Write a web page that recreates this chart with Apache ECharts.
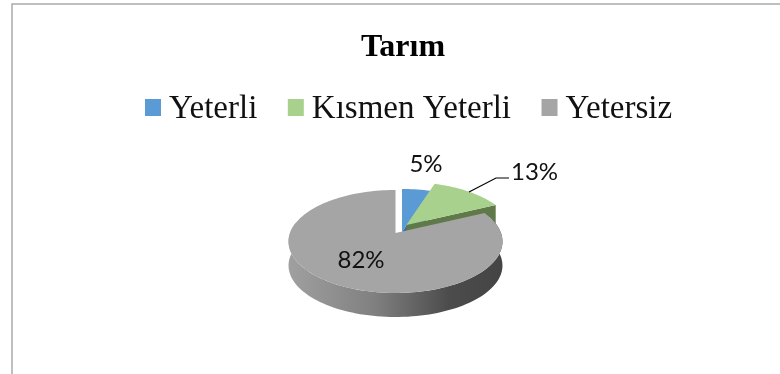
<!DOCTYPE html>
<html><head><meta charset="utf-8">
<style>html,body{margin:0;padding:0;background:#fff}#c{width:780px;height:374px}</style>
<script src="https://cdn.jsdelivr.net/npm/echarts@6/dist/echarts.min.js"></script>
</head><body><div id="c"></div>
<script>
const titleText = 'Tarım';
const categories = ['Yeterli', 'Kısmen Yeterli', 'Yetersiz'];
const values = [5, 13, 82];
const topColors = ['#5b9bd5', '#a9d18e', '#a5a5a5'];
const wallColors = ['#3f6d9a', '#5f7a48', null];

const total = values.reduce((a, b) => a + b, 0);
const RX = 105.5, RY = 50.1, K = 0.165, DEPTH = 24;
const apexes = [[402, 232], [406.5, 225], [395.5, 233]];
const labelPos = [[426, 164], [534.5, 172], [361, 260]];

function project(apex, deg, dy) {
  const t = deg * Math.PI / 180;
  const s = 1 / (1 + K * Math.cos(t));
  return [apex[0] + RX * Math.sin(t) * s, apex[1] - RY * Math.cos(t) * s + (dy || 0)];
}
function arc(apex, a, b, dy) {
  const pts = [], n = Math.max(2, Math.ceil(Math.abs(b - a) / 2));
  for (let i = 0; i <= n; i++) pts.push(project(apex, a + (b - a) * i / n, dy));
  return pts;
}
function makeRender(idx) {
  return function (params, api) {
    let start = 0;
    for (let i = 0; i < idx; i++) start += values[i];
    const a0 = start / total * 360;
    const a1 = (start + api.value(0)) / total * 360;
    const apex = apexes[idx];
    const children = [];
    if (wallColors[idx]) {
      const e = project(apex, a1);
      children.push({ type: 'polygon', shape: { points: [apex, e, [e[0], e[1] + DEPTH], [apex[0], apex[1] + DEPTH]] },
        style: { fill: wallColors[idx] } });
    } else {
      const lo = a0, hi = Math.min(a1, 282);
      const wall = arc(apex, lo, hi).concat(arc(apex, hi, lo, DEPTH));
      children.push({ type: 'polygon', shape: { points: wall },
        style: { fill: new echarts.graphic.LinearGradient(0, 0, 1, 0, [
          { offset: 0, color: '#a0a0a0' }, { offset: 0.4, color: '#808080' },
          { offset: 0.75, color: '#4c4c4c' }, { offset: 1, color: '#444444' }]) } });
    }
    children.push({ type: 'polygon', shape: { points: [apex].concat(arc(apex, a0, a1)) },
      style: { fill: topColors[idx] } });
    if (idx === 1) {
      children.push({ type: 'polyline', shape: { points: [[469, 192], [496, 178], [509, 178]] },
        style: { stroke: '#000', lineWidth: 1.2, fill: null } });
    }
    children.push({ type: 'text', x: labelPos[idx][0], y: labelPos[idx][1], z2: 10,
      style: { text: api.value(0) + '%', fill: '#111', font: '24px Lato', align: 'center', verticalAlign: 'middle' } });
    return { type: 'group', children };
  };
}

const chart = echarts.init(document.getElementById('c'));
chart.setOption({
  animation: false,
  backgroundColor: '#fff',
  title: { text: titleText, left: 398, top: 27, textAlign: 'center',
    textStyle: { fontFamily: 'Liberation Serif', fontWeight: 'bold', fontSize: 32, color: '#000' } },
  legend: { data: categories, left: 140, top: 88, itemWidth: 16, itemHeight: 21, itemGap: 30.5,
    icon: 'path://M0 0H16V17H0Z M0 21H0.01V21.01H0Z',
    textStyle: { fontFamily: 'Liberation Serif', fontSize: 33, color: '#111', padding: [0, 0, 0, 3] } },
  graphic: [{ type: 'polyline', silent: true, shape: { points: [[12, 374], [12, 4], [780, 4]] },
    style: { stroke: '#aaaaaa', lineWidth: 1.5, fill: null } }],
  series: categories.map((name, i) => ({
    type: 'custom', name, coordinateSystem: 'none', renderItem: makeRender(i),
    itemStyle: { color: topColors[i] }, data: [[values[i]]], silent: true
  }))
});
</script></body></html>
